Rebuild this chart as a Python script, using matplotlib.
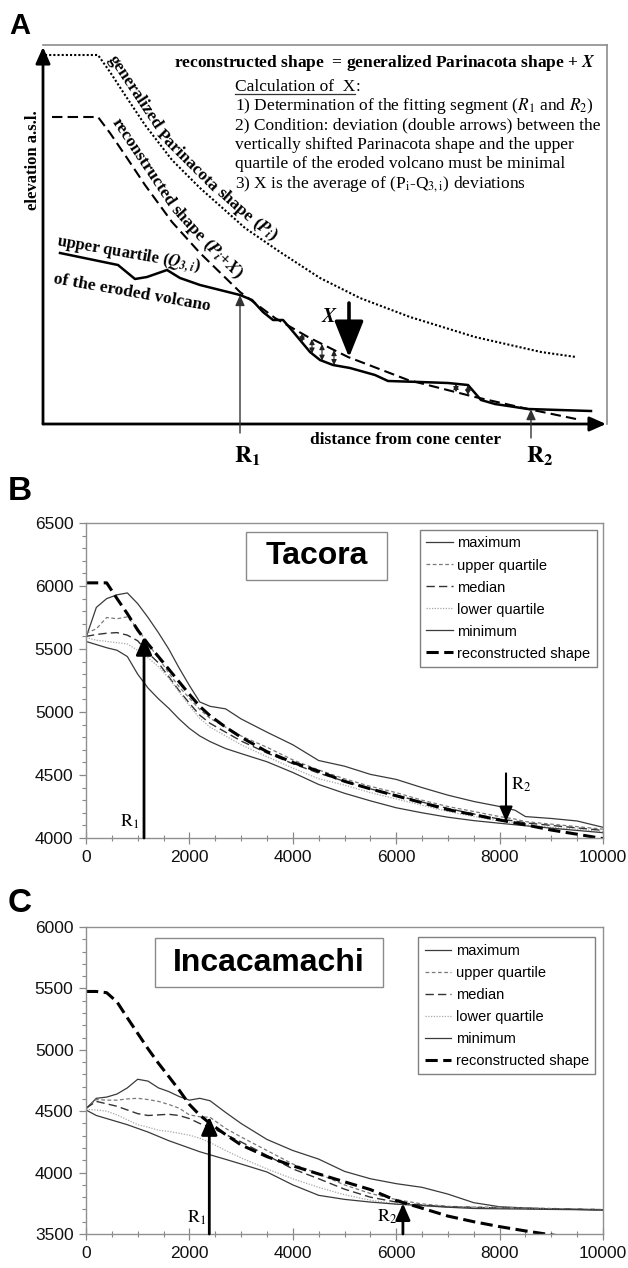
import numpy as np
import matplotlib
matplotlib.use('Agg')
import matplotlib.pyplot as plt
from matplotlib.patches import Rectangle
from matplotlib.ticker import MultipleLocator

plt.rcParams['font.family'] = 'Liberation Sans'
plt.rcParams['mathtext.fontset'] = 'stix'
SERIF = 'Liberation Serif'

# ---- panel A: schematic profiles (arbitrary units) ----
p_x = [2, 55, 67, 82, 102, 129, 157, 202, 237, 277, 317, 367, 432, 498, 533]
p_y = [369, 369, 352, 329, 299, 264, 236, 196, 172, 146, 126, 107, 87, 72, 67]
px_x = [9, 55, 67, 82, 102, 129, 157, 197, 232, 265, 305, 365, 432, 485, 533]
px_y = [307, 307, 291, 269, 239, 202, 171, 132, 106, 87, 67, 44, 27, 15, 5]
q_x = [17, 75, 92, 104, 124, 137, 157, 177, 197, 209, 220, 230, 240, 247, 257, 267,
       277, 290, 307, 332, 345, 377, 405, 425, 438, 452, 485, 548]
q_y = [171, 159, 145, 147, 154, 146, 139, 134, 129, 124, 112, 104, 104, 96, 84, 72,
       64, 59, 56, 49, 43, 42, 41, 39, 24, 20, 15, 13]
dev_x = [259, 269, 279, 291, 413, 425]
r1_a, r2_a = 197, 488
shift_x = 306

# ---- panel B: Tacora ----
tac_x = [0, 200, 400, 600, 800, 1000, 1200, 1400, 1600, 1800, 2000, 2200, 2400, 2700, 3000,
         3500, 4000, 4500, 5000, 5500, 6000, 6500, 7000, 7500, 8000, 8300, 8500, 9000, 9500, 10000]
tac_max = [5590, 5830, 5900, 5930, 5945, 5860, 5750, 5630, 5500, 5350, 5210, 5080, 5045, 5025, 4945,
           4840, 4740, 4615, 4570, 4505, 4465, 4400, 4340, 4290, 4250, 4220, 4170, 4155, 4135, 4085]
tac_uq = [5625, 5660, 5750, 5740, 5755, 5660, 5540, 5430, 5310, 5200, 5110, 5020, 4950, 4880, 4810,
          4720, 4620, 4540, 4470, 4410, 4360, 4300, 4250, 4210, 4170, 4150, 4130, 4110, 4090, 4070]
tac_med = [5600, 5615, 5625, 5630, 5610, 5565, 5470, 5390, 5280, 5170, 5070, 4975, 4910, 4840, 4770,
           4675, 4590, 4515, 4450, 4390, 4340, 4285, 4235, 4190, 4150, 4135, 4120, 4100, 4080, 4060]
tac_lq = [5590, 5570, 5560, 5550, 5540, 5490, 5430, 5360, 5270, 5160, 5050, 4950, 4880, 4810, 4740,
          4645, 4555, 4470, 4420, 4360, 4310, 4260, 4210, 4170, 4135, 4120, 4105, 4085, 4070, 4050]
tac_min = [5560, 5535, 5510, 5490, 5440, 5300, 5190, 5105, 5030, 4945, 4870, 4810, 4765, 4710, 4670,
           4605, 4520, 4425, 4355, 4295, 4240, 4200, 4165, 4138, 4117, 4105, 4097, 4078, 4060, 4042]
tac_rec = [6025, 6025, 6025, 5900, 5780, 5650, 5540, 5440, 5340, 5240, 5140, 5045, 4970, 4880, 4800,
           4685, 4600, 4530, 4450, 4390, 4335, 4280, 4225, 4185, 4143, 4120, 4105, 4063, 4030, 3995]
tac_r1 = (1122, 5598)
tac_r2 = (8124, 4513, 4130)

# ---- panel C: Incacamachi ----
inc_x = [0, 200, 400, 600, 800, 1000, 1200, 1400, 1600, 1800, 2000, 2200, 2400, 2700, 3000,
         3500, 4000, 4500, 5000, 5500, 6000, 6500, 7000, 7500, 8000, 8500, 9000, 9500, 10000]
inc_max = [4520, 4605, 4615, 4640, 4690, 4760, 4745, 4690, 4660, 4620, 4590, 4605, 4585, 4490, 4400,
           4270, 4180, 4110, 4010, 3950, 3910, 3880, 3825, 3755, 3722, 3712, 3705, 3700, 3695]
inc_uq = [4520, 4595, 4590, 4590, 4600, 4605, 4595, 4580, 4555, 4525, 4470, 4455, 4450, 4360, 4290,
          4180, 4070, 3990, 3900, 3830, 3780, 3745, 3725, 3720, 3718, 3712, 3708, 3704, 3700]
inc_med = [4525, 4580, 4560, 4540, 4510, 4480, 4465, 4470, 4475, 4465, 4440, 4400, 4370, 4310, 4250,
           4140, 4030, 3950, 3865, 3800, 3760, 3735, 3722, 3716, 3713, 3708, 3705, 3702, 3698]
inc_lq = [4515, 4510, 4500, 4470, 4430, 4390, 4370, 4345, 4335, 4320, 4305, 4280, 4245, 4180, 4120,
          4030, 3950, 3880, 3820, 3775, 3745, 3728, 3718, 3713, 3710, 3706, 3703, 3700, 3697]
inc_min = [4510, 4465, 4440, 4415, 4390, 4360, 4330, 4295, 4260, 4230, 4200, 4170, 4145, 4108, 4070,
           4005, 3900, 3815, 3782, 3760, 3743, 3732, 3718, 3708, 3705, 3703, 3700, 3698, 3695]
inc_rec = [5475, 5475, 5465, 5390, 5260, 5134, 5008, 4891, 4783, 4673, 4555, 4468, 4400, 4310, 4225,
           4130, 4055, 3989, 3925, 3862, 3773, 3710, 3646, 3600, 3560, 3525, 3493, 3462, 3430]
inc_r1 = (2385, 4455)
inc_r2 = (6130, 3500, 3750)

W, H = 628, 1268
fig = plt.figure(figsize=(W / 100, H / 100), dpi=100)


def box(l, t, r, b):
    return [l / W, 1 - b / H, (r - l) / W, (b - t) / H]


def curved_words(ax, xs, ys, words, x_start, offset, **kw):
    # put words one by one along a curve, turned to the local slope
    rend = fig.canvas.get_renderer()
    pts = ax.transData.transform(np.column_stack([xs, ys]))
    seg = np.hypot(np.diff(pts[:, 0]), np.diff(pts[:, 1]))
    s = np.concatenate([[0], np.cumsum(seg)])
    pos = np.interp(x_start, xs, s)
    gap = 0.28 * kw['fontsize'] * 100 / 72
    for w in words:
        t = ax.text(0, 0, w, ha='center', va='center', rotation_mode='anchor', **kw)
        width = t.get_window_extent(rend).width
        sc = pos + width / 2
        xa, ya = np.interp(sc - 8, s, pts[:, 0]), np.interp(sc - 8, s, pts[:, 1])
        xb, yb = np.interp(sc + 8, s, pts[:, 0]), np.interp(sc + 8, s, pts[:, 1])
        tx, ty = xb - xa, yb - ya
        n = np.hypot(tx, ty)
        tx, ty = tx / n, ty / n
        cx = np.interp(sc, s, pts[:, 0]) - ty * offset
        cy = np.interp(sc, s, pts[:, 1]) + tx * offset
        t.set_position(ax.transData.inverted().transform((cx, cy)))
        t.set_rotation(np.degrees(np.arctan2(ty, tx)))
        pos += width + gap


# ================= A =================
axA = fig.add_axes(box(43, 45, 607, 424))
axA.set_xlim(0, 564)
axA.set_ylim(0, 379)
axA.set_xticks([])
axA.set_yticks([])
for s in ['left', 'bottom']:
    axA.spines[s].set_visible(False)
for s in ['top', 'right']:
    axA.spines[s].set_color('#8c8c8c')
    axA.spines[s].set_linewidth(1.2)

axA.plot(p_x, p_y, color='black', lw=1.5, ls=(0, (1, 1)))
axA.plot(px_x, px_y, color='black', lw=1.5, ls=(0, (5, 2.5)))
axA.plot(q_x, q_y, color='black', lw=1.8)

axA.annotate('', xy=(0, 377), xytext=(0, 0),
             arrowprops=dict(arrowstyle='-|>,head_length=0.45,head_width=0.2', lw=2,
                             color='black', mutation_scale=22, shrinkA=0, shrinkB=0))
axA.annotate('', xy=(563, 0), xytext=(0, 0),
             arrowprops=dict(arrowstyle='-|>,head_length=0.45,head_width=0.2', lw=2,
                             color='black', mutation_scale=22, shrinkA=0, shrinkB=0))

thin = dict(arrowstyle='-|>,head_length=0.45,head_width=0.2', lw=1, color='#333333',
            mutation_scale=14, shrinkA=0, shrinkB=0)
axA.annotate('', xy=(r1_a, np.interp(r1_a, q_x, q_y)), xytext=(r1_a, -9), arrowprops=thin,
             annotation_clip=False)
axA.annotate('', xy=(r2_a, np.interp(r2_a, q_x, q_y)), xytext=(r2_a, -14), arrowprops=thin,
             annotation_clip=False)

axA.annotate('', xy=(shift_x, np.interp(shift_x, px_x, px_y)), xytext=(shift_x, 121),
             arrowprops=dict(arrowstyle='-|>,head_length=0.9,head_width=0.36', lw=2.6,
                             color='black', mutation_scale=25, shrinkA=0, shrinkB=0))

for xd in dev_x:
    axA.annotate('', xy=(xd, np.interp(xd, px_x, px_y)), xytext=(xd, np.interp(xd, q_x, q_y)),
                 arrowprops=dict(arrowstyle='<|-|>,head_length=0.45,head_width=0.22', lw=0.8,
                                 color='#222222', mutation_scale=7, shrinkA=0, shrinkB=0))

bs = dict(family=SERIF, weight='bold')
axA.text(131, 361, r'reconstructed shape  = generalized Parinacota shape + $\mathbfit{X}$',
         fontsize=12.5, va='center', **bs)
calc = axA.text(192, 337, 'Calculation of  X', fontsize=12.5, family=SERIF, va='center')
rend = fig.canvas.get_renderer()
bb = calc.get_window_extent(rend)
inv = axA.transData.inverted()
(ux0, uy0), (ux1, _) = inv.transform([(bb.x0, bb.y0 + 1), (bb.x1, bb.y0)])
axA.plot([ux0, ux1], [uy0, uy0], color='#333333', lw=0.9)
axA.text(ux1, 337, ':', fontsize=12.5, family=SERIF, va='center')
body = [r'1) Determination of the fitting segment ($R_1$ and $R_2$)',
        '2) Condition: deviation (double arrows) between the',
        'vertically shifted Parinacota shape and the upper',
        'quartile of the eroded volcano must be minimal',
        r'3) X is the average of (P$_\mathrm{i}$-Q$_\mathrm{3,i}$) deviations']
for i, line in enumerate(body):
    axA.text(192, 318 - 19.5 * i, line, fontsize=12.5, family=SERIF, va='center')

axA.text(-10, 264, 'elevation a.s.l.', rotation=90, fontsize=12, ha='center', va='center', **bs)
axA.text(363, -16, 'distance from cone center', fontsize=12.5, ha='center', va='center', **bs)
axA.text(204, -32, r'$\mathbf{R_1}$', fontsize=17, ha='center', va='center')
axA.text(497, -32, r'$\mathbf{R_2}$', fontsize=17, ha='center', va='center')
axA.text(86, 170, r'upper quartile ($\mathbfit{Q_{3,i}}$)', fontsize=12, rotation=-10,
         ha='center', va='center', **bs)
axA.text(89, 131, 'of the eroded volcano', fontsize=12.5, rotation=-10, ha='center', va='center',
         **bs)
axA.text(286, 107, r'$\mathbfit{X}$', fontsize=15, ha='center', va='center')

curved_words(axA, p_x, p_y, ['generalized', 'Parinacota', 'shape', r'($\mathbfit{P_i}$)'],
             60, 10, fontsize=12.5, **bs)
curved_words(axA, px_x, px_y, ['reconstructed', 'shape', r'($\mathbfit{P_i}$+$\mathbfit{X}$)'],
             62, 11, fontsize=12.5, **bs)


# ================= B and C =================
def profile(ax, x, mx, uq, md, lq, mn, rec, ylo, yhi):
    ax.plot(x, mx, color='#3a3a3a', lw=0.9, label='maximum')
    ax.plot(x, uq, color='#7a7a7a', lw=0.9, ls=(0, (3, 2)), label='upper quartile')
    ax.plot(x, md, color='#333333', lw=1.0, ls=(0, (6, 3)), label='median')
    ax.plot(x, lq, color='#a8a8a8', lw=0.9, ls=(0, (1, 1.2)), label='lower quartile')
    ax.plot(x, mn, color='#3a3a3a', lw=0.9, label='minimum')
    ax.plot(x, rec, color='black', lw=2.2, ls=(0, (4, 1.8)), label='reconstructed shape')
    ax.set_xlim(0, 10000)
    ax.set_ylim(ylo, yhi)
    ax.xaxis.set_major_locator(MultipleLocator(2000))
    ax.xaxis.set_minor_locator(MultipleLocator(500))
    ax.yaxis.set_major_locator(MultipleLocator(500))
    ax.yaxis.set_minor_locator(MultipleLocator(100))
    for s in ax.spines.values():
        s.set_color('#909090')
        s.set_linewidth(1)
    ax.tick_params(axis='y', which='major', direction='out', length=5, width=0.9,
                   color='#888888', labelsize=12.5, pad=4, labelcolor='#111111')
    ax.tick_params(axis='y', which='minor', direction='out', length=3, width=0.8, color='#888888')
    ax.tick_params(axis='x', which='major', direction='inout', length=9, width=0.9,
                   color='#888888', labelsize=12.5, pad=4, labelcolor='#111111')
    ax.tick_params(axis='x', which='minor', direction='inout', length=5, width=0.8,
                   color='#888888')


def legend(ax, x1, ytop):
    leg = ax.legend(loc='upper right', bbox_to_anchor=(x1, ytop), fontsize=10.5,
                    fancybox=False, edgecolor='#808080', framealpha=1, handlelength=1.8,
                    handletextpad=0.3, labelspacing=0.55, borderpad=0.45, borderaxespad=0)
    leg.get_frame().set_linewidth(1)


def name_box(ax, x0, y0, w, h, name, cx, cy):
    ax.add_patch(Rectangle((x0, y0), w, h, transform=ax.transAxes, fc='white',
                           ec='#8a8a8a', lw=1, zorder=3))
    ax.text(cx, cy, name, transform=ax.transAxes, fontsize=23, weight='bold',
            ha='center', va='center', zorder=4)


axB = fig.add_axes(box(86, 523, 603, 838))
profile(axB, tac_x, tac_max, tac_uq, tac_med, tac_lq, tac_min, tac_rec, 4000, 6500)
legend(axB, 0.988, 0.978)
name_box(axB, 0.3095, 0.819, 0.2727, 0.1524, 'Tacora', 0.4455, 0.895)
axB.annotate('', xy=tac_r1, xytext=(tac_r1[0], 4000),
             arrowprops=dict(arrowstyle='-|>,head_length=0.5,head_width=0.22', lw=2,
                             color='black', mutation_scale=22, shrinkA=0, shrinkB=0))
axB.annotate('', xy=(tac_r2[0], tac_r2[2]), xytext=(tac_r2[0], tac_r2[1]),
             arrowprops=dict(arrowstyle='-|>,head_length=0.5,head_width=0.22', lw=1.5,
                             color='black', mutation_scale=18, shrinkA=0, shrinkB=0))
axB.text(851, 4127, r'$\mathrm{R_1}$', fontsize=13, ha='center', va='center')
axB.text(8414, 4421, r'$\mathrm{R_2}$', fontsize=13, ha='center', va='center')

axC = fig.add_axes(box(86, 927, 603, 1234))
profile(axC, inc_x, inc_max, inc_uq, inc_med, inc_lq, inc_min, inc_rec, 3500, 6000)
legend(axC, 0.985, 0.967)
name_box(axC, 0.1335, 0.8046, 0.441, 0.1596, 'Incacamachi', 0.354, 0.884)
axC.annotate('', xy=inc_r1, xytext=(inc_r1[0], 3500),
             arrowprops=dict(arrowstyle='-|>,head_length=0.5,head_width=0.22', lw=2,
                             color='black', mutation_scale=22, shrinkA=0, shrinkB=0))
axC.annotate('', xy=(inc_r2[0], inc_r2[2]), xytext=(inc_r2[0], inc_r2[1]),
             arrowprops=dict(arrowstyle='-|>,head_length=0.5,head_width=0.22', lw=2,
                             color='black', mutation_scale=20, shrinkA=0, shrinkB=0))
axC.text(2147, 3630, r'$\mathrm{R_1}$', fontsize=13, ha='center', va='center')
axC.text(5820, 3638, r'$\mathrm{R_2}$', fontsize=13, ha='center', va='center')

fig.text(20 / W, 1 - 26 / H, 'A', fontsize=21, weight='bold', ha='center', va='center')
fig.text(20 / W, 1 - 492 / H, 'B', fontsize=24, weight='bold', ha='center', va='center')
fig.text(20 / W, 1 - 904 / H, 'C', fontsize=24, weight='bold', ha='center', va='center')

fig.savefig('out.png', dpi=100)
